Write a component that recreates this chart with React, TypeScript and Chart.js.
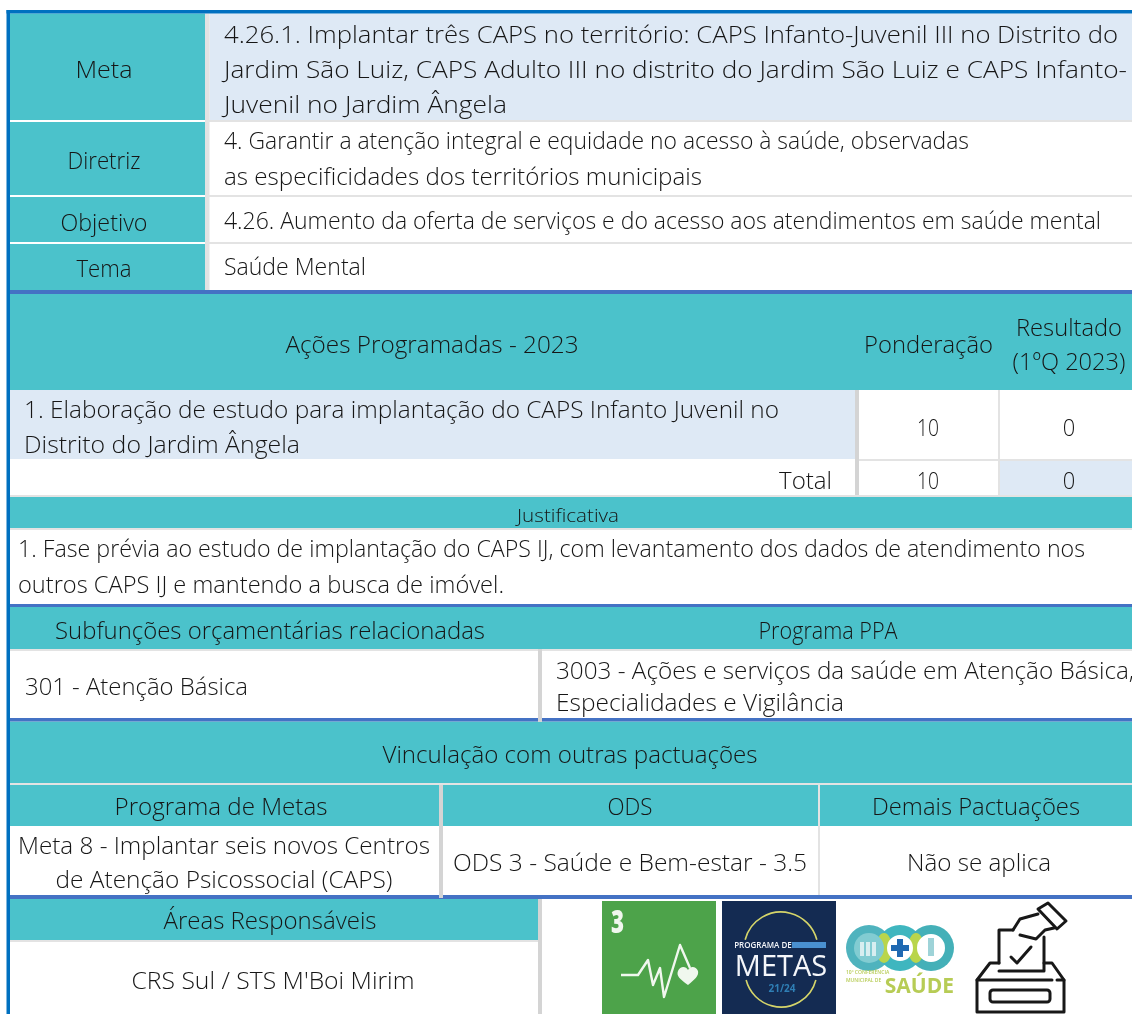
import React, { useEffect, useRef } from "react";
import { Chart, registerables } from "chart.js";

Chart.register(...registerables);

// ---- table content ----
const rowHeaders = ["Meta", "Diretriz", "Objetivo", "Tema"];
const metaLines = [
  "4.26.1. Implantar três CAPS no território: CAPS Infanto-Juvenil III no Distrito do",
  "Jardim São Luiz, CAPS Adulto III no distrito do Jardim São Luiz e CAPS Infanto-",
  "Juvenil no Jardim Ângela",
];
const diretrizLines = [
  "4. Garantir a atenção integral e equidade no acesso à saúde, observadas",
  "as especificidades dos territórios municipais",
];
const objetivoLines = ["4.26. Aumento da oferta de serviços e do acesso aos atendimentos em saúde mental"];
const temaLines = ["Saúde Mental"];
const actionHeaders = ["Ações Programadas - 2023", "Ponderação", "Resultado", "(1ºQ 2023)"];
const actionLines = [
  "1. Elaboração de estudo para implantação do CAPS Infanto Juvenil no",
  "Distrito do Jardim Ângela",
];
const ponderacaoValues = ["10", "10"];
const resultadoValues = ["0", "0"];
const totalLabel = "Total";
const justificativaTitle = "Justificativa";
const justificativaLines = [
  "1. Fase prévia ao estudo de implantação do CAPS IJ, com levantamento dos dados de atendimento nos",
  "outros CAPS IJ e mantendo a busca de imóvel.",
];
const budgetHeaders = ["Subfunções orçamentárias relacionadas", "Programa PPA"];
const budgetValue = "301 - Atenção Básica";
const ppaLines = ["3003 - Ações e serviços da saúde em Atenção Básica,", "Especialidades e Vigilância"];
const linkTitle = "Vinculação com outras pactuações";
const linkHeaders = ["Programa de Metas", "ODS", "Demais Pactuações"];
const metasLines = ["Meta 8 - Implantar seis novos Centros", "de Atenção Psicossocial (CAPS)"];
const odsValue = "ODS 3 - Saúde e Bem-estar - 3.5";
const otherValue = "Não se aplica";
const areasTitle = "Áreas Responsáveis";
const areasValue = "CRS Sul / STS M'Boi Mirim";

// ---- palette ----
const TEAL = "#4BC2CB";
const PALE = "#DEE9F5";
const BLUE = "#0070C0";
const ROYAL = "#4472C4";
const GREY = "#D4D4D4";
const LIGHT = "#E3E3E3";
const WHITE = "#FFFFFF";

// ---- table cells: x0, x1, y0, y1, colour ----
const cells: [number, number, number, number, string][] = [
  [6.5, 1132, 10, 13.5, BLUE],
  [6.5, 10, 10, 1014, BLUE],
  [10, 205, 13.5, 120, TEAL],
  [205, 209.5, 13.5, 290, LIGHT],
  [209.5, 1132, 13.5, 120, PALE],
  [205, 1132, 120, 122, LIGHT],
  [10, 205, 122, 195, TEAL],
  [205, 1132, 195, 197, LIGHT],
  [10, 205, 197, 242, TEAL],
  [205, 1132, 242, 244, LIGHT],
  [10, 205, 244, 290, TEAL],
  [10, 1132, 290, 294, ROYAL],
  [10, 1132, 294, 390, TEAL],
  [855, 859, 294, 495, GREY],
  [998, 1000, 294, 495, LIGHT],
  [10, 855, 390, 459, PALE],
  [859, 1132, 459, 461, LIGHT],
  [1000, 1132, 461, 495, PALE],
  [10, 1132, 495, 497, LIGHT],
  [10, 1132, 497, 528, TEAL],
  [10, 1132, 528, 530, LIGHT],
  [10, 1132, 604, 607, ROYAL],
  [10, 1132, 607, 649, TEAL],
  [538, 542, 607, 722, GREY],
  [10, 538, 649, 651, LIGHT],
  [542, 1132, 649, 651, LIGHT],
  [10, 1132, 718, 721.5, ROYAL],
  [10, 1132, 721.5, 783, TEAL],
  [10, 1132, 783, 785, LIGHT],
  [10, 439, 785, 826, TEAL],
  [443, 818, 785, 826, TEAL],
  [820, 1132, 785, 826, TEAL],
  [439, 443, 785, 898, GREY],
  [818, 820, 785, 895, LIGHT],
  [10, 1132, 895, 899, ROYAL],
  [10, 538, 899, 940, TEAL],
  [10, 538, 940, 942, LIGHT],
  [538, 542, 899, 1014, GREY],
];

// ---- text placement: text, align, x, baseline, fitted width, px size ----
type T = [string, "left" | "center" | "right", number, number, number, number?];
const texts: T[] = [
  [rowHeaders[0], "center", 104, 78, 57],
  [rowHeaders[1], "center", 104, 169, 73],
  [rowHeaders[2], "center", 104, 230.5, 87],
  [rowHeaders[3], "center", 104, 277, 55],
  [metaLines[0], "left", 224, 43, 894],
  [metaLines[1], "left", 224, 78, 903],
  [metaLines[2], "left", 224, 113, 283],
  [diretrizLines[0], "left", 224, 149, 745],
  [diretrizLines[1], "left", 224, 185, 478],
  [objetivoLines[0], "left", 224, 229, 877],
  [temaLines[0], "left", 224, 275, 142],
  [actionHeaders[0], "center", 432, 353, 293],
  [actionHeaders[1], "center", 928.5, 353, 129],
  [actionHeaders[2], "center", 1069, 336, 106],
  [actionHeaders[3], "center", 1069, 370, 113],
  [actionLines[0], "left", 24, 418, 755],
  [actionLines[1], "left", 24, 453, 276],
  [ponderacaoValues[0], "center", 928, 436, 22],
  [resultadoValues[0], "center", 1069, 436, 12.5],
  [totalLabel, "right", 832, 489, 53],
  [ponderacaoValues[1], "center", 928, 489, 22],
  [resultadoValues[1], "center", 1069, 489, 12.5],
  [justificativaTitle, "center", 568, 522, 102, 19],
  [justificativaLines[0], "left", 18, 557, 1067],
  [justificativaLines[1], "left", 18, 593, 486],
  [budgetHeaders[0], "center", 270, 639, 430],
  [budgetHeaders[1], "center", 828, 639, 139],
  [budgetValue, "left", 25, 695, 223],
  [ppaLines[0], "left", 556, 679, 578],
  [ppaLines[1], "left", 556, 711, 288],
  [linkTitle, "center", 570, 763, 375],
  [linkHeaders[0], "center", 221, 815, 213],
  [linkHeaders[1], "center", 630, 815, 45],
  [linkHeaders[2], "center", 976, 815, 208],
  [metasLines[0], "center", 224, 854, 412],
  [metasLines[1], "center", 224, 888, 337],
  [odsValue, "center", 630, 871, 354],
  [otherValue, "center", 979, 871, 144],
  [areasTitle, "center", 270, 929, 213],
  [areasValue, "center", 273, 989, 283],
];

const FONT = '"Open Sans", "Noto Sans", sans-serif';

function drawFitted(ctx: CanvasRenderingContext2D, t: T, X: (v: number) => number, Y: (v: number) => number) {
  const [s, align, x, y, w, size] = t;
  ctx.font = `300 ${size ?? 23}px ${FONT}`;
  ctx.textAlign = "left";
  ctx.textBaseline = "alphabetic";
  ctx.fillStyle = "#161616";
  const natural = ctx.measureText(s).width;
  const k = w / natural;
  const left = align === "left" ? x : align === "center" ? x - w / 2 : x - w;
  ctx.save();
  ctx.translate(X(left), Y(y));
  ctx.scale(k, 1);
  ctx.fillText(s, 0, 0);
  ctx.restore();
}

function poly(ctx: CanvasRenderingContext2D, pts: number[][], close = false) {
  ctx.beginPath();
  pts.forEach((p, i) => (i ? ctx.lineTo(p[0], p[1]) : ctx.moveTo(p[0], p[1])));
  if (close) ctx.closePath();
}

function drawIcons(ctx: CanvasRenderingContext2D) {
  ctx.save();
  // SDG 3
  ctx.fillStyle = "#4DA34A";
  ctx.fillRect(602, 901, 114, 113);
  ctx.fillStyle = "#F0F7EE";
  ctx.textAlign = "left";
  ctx.textBaseline = "alphabetic";
  ctx.font = `800 31px ${FONT}`;
  ctx.save();
  ctx.translate(611, 933);
  ctx.scale(0.72, 1);
  ctx.fillText("3", 0, 0);
  ctx.restore();
  ctx.strokeStyle = "#F0F7EE";
  ctx.lineWidth = 2.4;
  ctx.lineJoin = "round";
  poly(ctx, [[621, 975], [638, 975], [648, 960], [653, 985], [660, 968], [664, 997], [680, 945], [690, 968]]);
  ctx.stroke();
  ctx.beginPath();
  ctx.moveTo(688, 985);
  ctx.bezierCurveTo(680, 979, 676, 976, 678, 971);
  ctx.bezierCurveTo(680, 966, 686, 966, 688, 970);
  ctx.bezierCurveTo(690, 966, 696, 966, 698, 971);
  ctx.bezierCurveTo(699, 976, 695, 979, 688, 985);
  ctx.fill();

  // Programa de Metas
  ctx.fillStyle = "#142B52";
  ctx.fillRect(722, 901, 114, 113);
  ctx.strokeStyle = "#D5D56A";
  ctx.lineWidth = 1.6;
  ctx.beginPath();
  ctx.arc(781, 949, 37, Math.PI * 1.08, Math.PI * 1.92);
  ctx.stroke();
  ctx.beginPath();
  ctx.arc(781, 971, 36, Math.PI * 0.08, Math.PI * 0.92);
  ctx.stroke();
  ctx.fillStyle = "#F4F6FA";
  ctx.textAlign = "center";
  ctx.font = `600 8px ${FONT}`;
  ctx.fillText("PROGRAMA DE", 763, 948);
  ctx.fillStyle = "#4A90D0";
  ctx.fillRect(792, 942, 34, 6);
  ctx.fillStyle = "#F4F6FA";
  ctx.font = `400 29px ${FONT}`;
  ctx.save();
  ctx.translate(781, 976);
  ctx.scale(1.0, 1);
  ctx.fillText("METAS", 0, 0);
  ctx.restore();
  ctx.fillStyle = "#2F7FB5";
  ctx.font = `700 10px ${FONT}`;
  ctx.fillText("21/24", 782, 992);

  // Conferencia
  const rings: [number, string][] = [[869, "#4FB3BE"], [900, "#3FB6BF"], [931, "#44B0B8"]];
  rings.forEach(([cx, col]) => {
    ctx.fillStyle = col;
    ctx.beginPath();
    ctx.arc(cx, 948, 23, 0, Math.PI * 2);
    ctx.fill();
  });
  ctx.fillStyle = "#B9D54B";
  ctx.beginPath();
  ctx.ellipse(884, 948, 8, 15, 0, 0, Math.PI * 2);
  ctx.ellipse(916, 948, 8, 15, 0, 0, Math.PI * 2);
  ctx.fill();
  ctx.fillStyle = "#82CCD2";
  ctx.beginPath();
  ctx.arc(869, 948, 15, 0, Math.PI * 2);
  ctx.fill();
  ctx.fillStyle = WHITE;
  ctx.beginPath();
  ctx.arc(900, 948, 13, 0, Math.PI * 2);
  ctx.arc(931, 948, 14, 0, Math.PI * 2);
  ctx.fill();
  ctx.fillStyle = "#1F69B2";
  ctx.fillRect(897, 939, 6, 18);
  ctx.fillRect(891, 945, 18, 6);
  ctx.fillStyle = "#9ED3D8";
  ctx.fillRect(928, 938, 6, 18);
  ctx.fillStyle = "#D8EEF0";
  [860, 866, 872].forEach((x) => ctx.fillRect(x, 942, 4, 14));
  ctx.fillStyle = "#B7CC55";
  ctx.font = `700 21px ${FONT}`;
  ctx.textAlign = "right";
  ctx.fillText("SAÚDE", 954, 993);
  ctx.font = `600 5px ${FONT}`;
  ctx.textAlign = "left";
  ctx.fillText("10ª CONFERÊNCIA", 846, 974);
  ctx.fillText("MUNICIPAL DE", 846, 982);

  // Ballot box
  ctx.strokeStyle = "#181818";
  ctx.lineWidth = 3;
  ctx.lineJoin = "round";
  ctx.lineCap = "round";
  poly(ctx, [[999, 963], [999, 930], [1013, 930]]);
  ctx.stroke();
  poly(ctx, [[999, 971], [1044, 971], [1044, 937]]);
  ctx.stroke();
  poly(ctx, [[1011, 957], [1017, 963], [1031, 947]]);
  ctx.stroke();
  poly(ctx, [[1013, 930], [1020, 919], [1038, 914]]);
  ctx.stroke();
  poly(ctx, [[1054, 928], [1045, 930], [1036, 939], [1020, 935]]);
  ctx.stroke();
  poly(ctx, [[1038, 909], [1048, 903], [1066, 921], [1057, 929]], true);
  ctx.stroke();
  poly(ctx, [[999, 963], [990, 963], [977, 980], [977, 1012], [1064, 1012], [1064, 980], [1052, 963], [1044, 963]]);
  ctx.stroke();
  poly(ctx, [[977, 980], [1052, 980]]);
  ctx.stroke();
  poly(ctx, [[1057, 980], [1064, 980]]);
  ctx.stroke();
  ctx.beginPath();
  ctx.roundRect(990, 990, 60, 12, 3);
  ctx.stroke();
  ctx.restore();
}

const tablePlugin = {
  id: "tableText",
  afterDatasetsDraw(chart: any) {
    const { ctx, scales } = chart;
    const X = (v: number) => scales.x.getPixelForValue(v);
    const Y = (v: number) => scales.y.getPixelForValue(v);
    ctx.save();
    texts.forEach((t) => drawFitted(ctx, t, X, Y));
    drawIcons(ctx);
    ctx.restore();
  },
};

export default function App() {
  const ref = useRef<HTMLCanvasElement>(null);
  useEffect(() => {
    if (!ref.current) return;
    const chart = new Chart(ref.current, {
      type: "bar",
      data: {
        datasets: cells.map((c) => ({
          data: [{ x: [c[0], c[1]], y: (c[2] + c[3]) / 2 }],
          backgroundColor: c[4],
          barThickness: c[3] - c[2],
          grouped: false,
          borderWidth: 0,
          inflateAmount: 0,
        })) as any,
      },
      options: {
        indexAxis: "y",
        animation: false,
        responsive: false,
        events: [],
        layout: { padding: 0 },
        plugins: { legend: { display: false }, tooltip: { enabled: false } },
        scales: {
          x: { type: "linear", min: 0, max: 1132, display: false, offset: false },
          y: { type: "linear", min: 0, max: 1014, reverse: true, display: false, offset: false },
        },
      },
      plugins: [tablePlugin],
    } as any);
    return () => chart.destroy();
  }, []);
  return (
    <div style={{ position: "absolute", left: 0, top: 0, width: 1132, height: 1014, background: "#fff", overflow: "hidden" }}>
      <canvas ref={ref} width={1132} height={1014} style={{ display: "block" }} />
    </div>
  );
}
